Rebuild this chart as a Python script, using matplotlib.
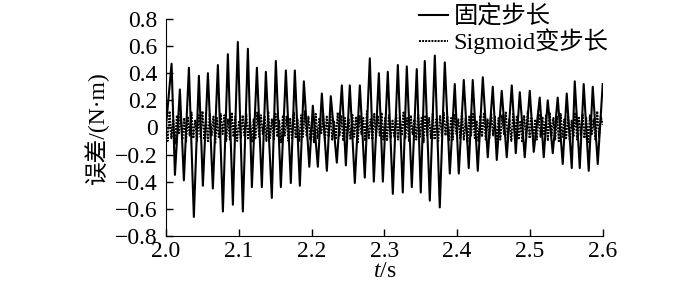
import numpy as np
import matplotlib.pyplot as plt

plt.rcParams['font.family'] = ['Liberation Serif', 'Noto Sans CJK SC']
plt.rcParams['mathtext.fontset'] = 'custom'
plt.rcParams['mathtext.rm'] = 'Liberation Serif'
plt.rcParams['mathtext.it'] = 'Liberation Serif:italic'
plt.rcParams['axes.unicode_minus'] = True

# fixed step: peaks and troughs
peak_t = [2.0078, 2.0192, 2.0316, 2.0453, 2.0577, 2.0714, 2.0851, 2.0988, 2.1126, 2.1250,
          2.1373, 2.1510, 2.1648, 2.1771, 2.1895, 2.2018, 2.2142, 2.2265, 2.2417, 2.2526,
          2.2664, 2.2801, 2.2925, 2.3048, 2.3186, 2.3309, 2.3446, 2.3556, 2.3694, 2.3831,
          2.3968, 2.4092, 2.4215, 2.4353, 2.4490, 2.4613, 2.4751, 2.4861, 2.4998, 2.5135,
          2.5245, 2.5382, 2.5506, 2.5616, 2.5739, 2.5863, 2.6000]
peak_v = [0.47, 0.28, 0.44, 0.38, 0.40, 0.46, 0.54, 0.63, 0.58, 0.44,
          0.41, 0.49, 0.42, 0.42, 0.34, 0.16, 0.25, 0.23, 0.31, 0.31,
          0.31, 0.51, 0.40, 0.41, 0.46, 0.45, 0.43, 0.49, 0.53, 0.48,
          0.32, 0.35, 0.35, 0.37, 0.30, 0.27, 0.31, 0.26, 0.27, 0.22,
          0.20, 0.22, 0.25, 0.34, 0.32, 0.30, 0.32]
trough_t = [2.0124, 2.0247, 2.0384, 2.0508, 2.0645, 2.0783, 2.0920, 2.1057, 2.1181, 2.1318,
            2.1455, 2.1579, 2.1716, 2.1840, 2.1970, 2.2087, 2.2211, 2.2348, 2.2472, 2.2595,
            2.2732, 2.2856, 2.2980, 2.3117, 2.3254, 2.3378, 2.3501, 2.3625, 2.3762, 2.3900,
            2.4023, 2.4160, 2.4284, 2.4421, 2.4545, 2.4682, 2.4806, 2.4929, 2.5053, 2.5190,
            2.5314, 2.5451, 2.5575, 2.5685, 2.5808, 2.5932]
trough_v = [-0.35, -0.39, -0.66, -0.43, -0.45, -0.62, -0.57, -0.62, -0.44, -0.44,
            -0.52, -0.44, -0.41, -0.43, -0.29, -0.29, -0.32, -0.26, -0.28, -0.41,
            -0.37, -0.40, -0.40, -0.49, -0.48, -0.44, -0.48, -0.54, -0.59, -0.34,
            -0.34, -0.30, -0.32, -0.22, -0.24, -0.22, -0.19, -0.22, -0.18, -0.22,
            -0.19, -0.27, -0.30, -0.30, -0.32, -0.27]

# sigmoid variable step: small error band around zero (estimated)
sig_err = [0.02, -0.10, 0.12, -0.08, 0.06, -0.12, 0.09, -0.05, 0.10, -0.09,
           0.07, -0.11, 0.08, -0.06, 0.11, -0.08, 0.05, -0.10, 0.09, -0.07,
           0.12, -0.09, 0.06, -0.11, 0.10, -0.06, 0.08, -0.12, 0.07, -0.08,
           0.10, -0.05, 0.09, -0.10, 0.06, -0.09, 0.11, -0.07, 0.08, -0.10,
           0.05, -0.08, 0.09, -0.06, 0.10, -0.09, 0.07, -0.11, 0.06, -0.08,
           0.11, -0.07, 0.09, -0.05, 0.08, -0.10, 0.12, -0.08, 0.06, -0.09,
           0.10, -0.07, 0.05, -0.11, 0.09, -0.06, 0.08, -0.10, 0.07, -0.09,
           0.11, -0.08, 0.06, -0.10, 0.09, -0.07, 0.12, -0.06, 0.08, -0.09,
           0.06, -0.11, 0.10, -0.08, 0.07, -0.05, 0.09, -0.10, 0.08, -0.07,
           0.10, -0.09, 0.05, -0.08, 0.11, -0.06, 0.09, -0.10, 0.07, -0.08,
           0.06, -0.09, 0.10, -0.07, 0.08, -0.11, 0.09, -0.05, 0.07, -0.10,
           0.12, -0.08, 0.06, -0.09, 0.10, -0.07, 0.08, -0.06, 0.11, -0.09,
           0.07, -0.10, 0.09, -0.08, 0.05, -0.07, 0.10, -0.09, 0.08, -0.06,
           0.11, -0.08, 0.07, -0.10, 0.09, -0.05, 0.06, -0.09, 0.10, -0.07,
           0.08, -0.11, 0.09, -0.06, 0.07, -0.08, 0.10, -0.09, 0.06, -0.10,
           0.09, -0.07, 0.11, -0.06, 0.08, -0.10, 0.07, -0.09, 0.10, -0.05,
           0.06, -0.08, 0.12, -0.09, 0.07, -0.11, 0.08, -0.06, 0.10, -0.08,
           0.05, -0.10, 0.09, -0.07, 0.11, -0.09, 0.06, -0.08, 0.10, -0.06,
           0.08, -0.12, 0.07, -0.09, 0.09, -0.05, 0.11, -0.08, 0.06, -0.10,
           0.10, -0.07, 0.08, -0.09, 0.05, -0.11, 0.09, -0.06, 0.12, -0.08,
           0.07, -0.10, 0.06, -0.09, 0.10, -0.07, 0.08, -0.05, 0.09, -0.10,
           0.11, -0.06, 0.07, -0.09, 0.08, -0.11, 0.10, -0.07, 0.06, -0.08,
           0.09, -0.10, 0.05, -0.07, 0.11, -0.09, 0.08, -0.06, 0.10, -0.08,
           0.07, -0.11, 0.09, -0.05, 0.06, -0.09, 0.12, -0.07, 0.08, 0.02]

xticks = [2.0, 2.1, 2.2, 2.3, 2.4, 2.5, 2.6]
xlabels = ['2.0', '2.1', '2.2', '2.3', '2.4', '2.5', '2.6']
yticks = [-0.8, -0.6, -0.4, -0.2, 0, 0.2, 0.4, 0.6, 0.8]
ylabels = ['\u22120.8', '\u22120.6', '\u22120.4', '\u22120.2', '0', '0.2', '0.4', '0.6', '0.8']

t_fixed = np.array([2.0] + peak_t + trough_t)
v_fixed = np.array([0.0] + peak_v + trough_v)
order = np.argsort(t_fixed)
t_fixed, v_fixed = t_fixed[order], v_fixed[order]
t_sig = np.linspace(2.0, 2.6, len(sig_err))

fig = plt.figure(figsize=(7, 2.87), dpi=100)
ax = fig.add_axes([0.237, 0.178, 0.624, 0.756])

ax.plot(t_fixed, v_fixed, color='black', lw=1.5, label='固定步长')
ax.plot(t_sig, sig_err, color='black', lw=1.4, ls=(0, (1, 0.6)), label='Sigmoid变步长')

ax.set_xlim(2.0, 2.6)
ax.set_ylim(-0.8, 0.8)
ax.set_xticks(xticks)
ax.set_xticklabels(xlabels)
ax.set_yticks(yticks)
ax.set_yticklabels(ylabels)
ax.tick_params(direction='in', length=5, width=1, labelsize=17)
ax.tick_params(axis='y', pad=6)
ax.tick_params(axis='x', pad=4)
ax.spines['top'].set_visible(False)
ax.spines['right'].set_visible(False)
ax.set_xlabel(r'$t$/s', fontsize=17, labelpad=-1)
ax.set_ylabel('误差/(N·m)', fontsize=17, labelpad=4)

fig.legend(loc='upper left', bbox_to_anchor=(0.584, 1.015), frameon=False,
           fontsize=17.5, handlelength=1.2, handletextpad=0.25, labelspacing=0.0,
           borderaxespad=0)

fig.savefig('out.png', dpi=100)
